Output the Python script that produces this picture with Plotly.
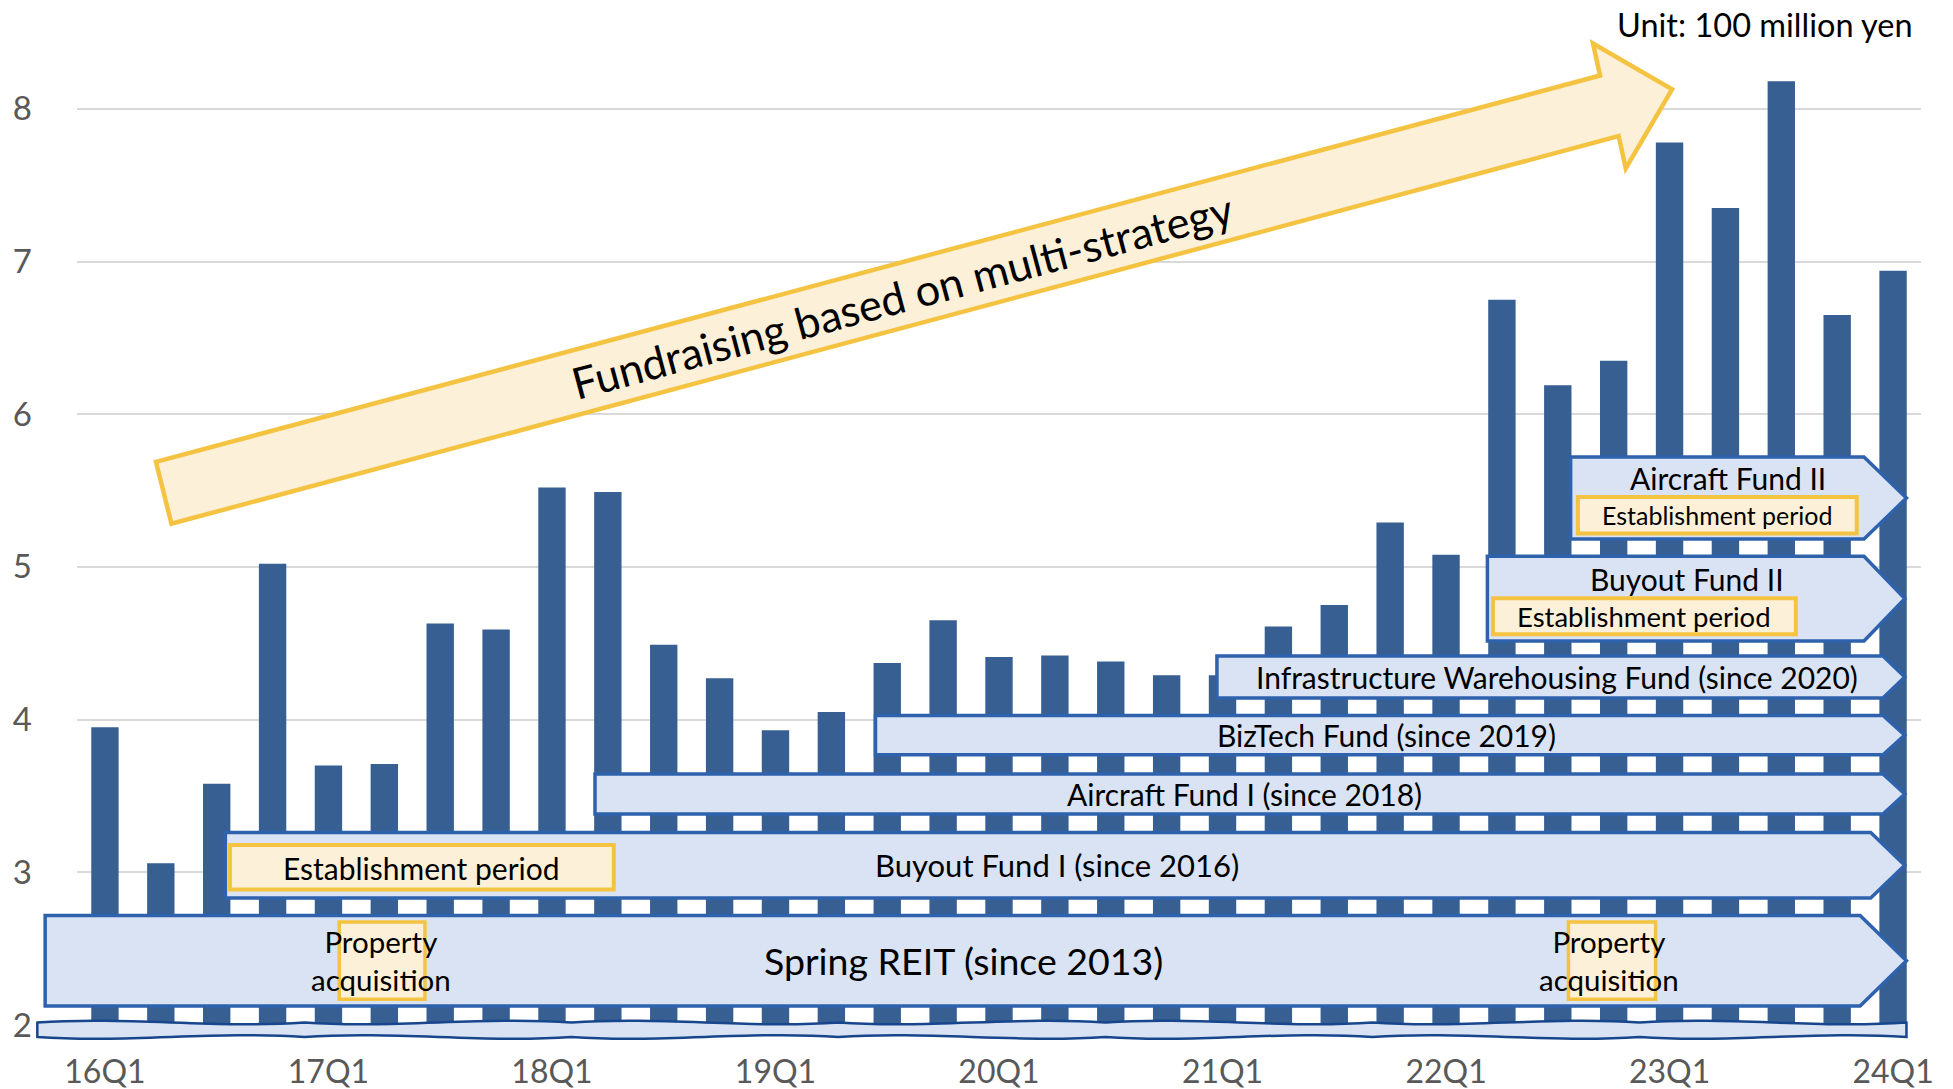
import plotly.graph_objects as go

# ---------------- data ----------------
quarters = ["16Q1", "16Q2", "16Q3", "16Q4", "17Q1", "17Q2", "17Q3", "17Q4",
            "18Q1", "18Q2", "18Q3", "18Q4", "19Q1", "19Q2", "19Q3", "19Q4",
            "20Q1", "20Q2", "20Q3", "20Q4", "21Q1", "21Q2", "21Q3", "21Q4",
            "22Q1", "22Q2", "22Q3", "22Q4", "23Q1", "23Q2", "23Q3", "23Q4",
            "24Q1"]
values = [3.95, 3.06, 3.58, 5.02, 3.70, 3.71, 4.63, 4.59,
          5.52, 5.49, 4.49, 4.27, 3.93, 4.05, 4.37, 4.65,
          4.41, 4.42, 4.38, 4.29, 4.29, 4.61, 4.75, 5.29,
          5.08, 6.75, 6.19, 6.35, 7.78, 7.35, 8.18, 6.65,
          6.94]
tick_quarters = ["16Q1", "17Q1", "18Q1", "19Q1", "20Q1", "21Q1", "22Q1", "23Q1", "24Q1"]
y_ticks = [2, 3, 4, 5, 6, 7, 8]

fund_labels = ["Spring REIT (since 2013)", "Buyout Fund I (since 2016)",
               "Aircraft Fund I (since 2018)", "BizTech Fund (since 2019)",
               "Infrastructure Warehousing Fund (since 2020)",
               "Buyout Fund II", "Aircraft Fund II"]
establishment_text = "Establishment period"
property_text = "Property<br>acquisition"
arrow_text = "Fundraising based on multi-strategy"
unit_text = "Unit: 100 million yen"

# ---------------- geometry helpers ----------------
W, H = 1953, 1089
XMIN, XMAX = -0.5, len(quarters) - 0.5
YMIN, YMAX = 2.0, 8.647
FONT = "Lato, Carlito, 'Open Sans', sans-serif"

BAR = "#375F92"
BAND_FILL = "#DAE3F3"
BAND_LINE = "#2F62AD"
YEL = "#F5C342"
YEL_FILL = "#FDF0D8"


def fx(q):
    return (q - XMIN) / (XMAX - XMIN)


def fy(v):
    return (v - YMIN) / (YMAX - YMIN)


def pt(q, v):
    return f"{fx(q):.5f},{fy(v):.5f}"


shapes = []


def chevron(x0, x1, xt, y0, y1):
    ym = (y0 + y1) / 2
    path = (f"M {pt(x0, y0)} L {pt(x1, y0)} L {pt(xt, ym)} L {pt(x1, y1)} "
            f"L {pt(x0, y1)} Z")
    shapes.append(dict(type="path", path=path, xref="paper", yref="paper",
                       fillcolor=BAND_FILL, line=dict(color=BAND_LINE, width=3.5),
                       layer="above"))


def ybox(x0, x1, y0, y1, width=4):
    shapes.append(dict(type="rect", x0=fx(x0), x1=fx(x1), y0=fy(y0), y1=fy(y1),
                       xref="paper", yref="paper", fillcolor=YEL_FILL,
                       line=dict(color=YEL, width=width), layer="above"))


# wavy axis-break strip
def wavy_strip(x0, x1, y0, y1, amp=0.04, n=7):
    step = (x1 - x0) / n
    d = f"M {pt(x0, y1)} "
    for i in range(n):
        a = x0 + i * step
        s = 1 if i % 2 == 0 else -1
        d += (f"C {pt(a + step / 3, y1 + s * amp)} {pt(a + 2 * step / 3, y1 - s * amp)} "
              f"{pt(a + step, y1)} ")
    d += f"L {pt(x1, y0)} "
    for i in range(n):
        a = x1 - i * step
        s = 1 if i % 2 == 0 else -1
        d += (f"C {pt(a - step / 3, y0 + s * amp)} {pt(a - 2 * step / 3, y0 - s * amp)} "
              f"{pt(a - step, y0)} ")
    d += "Z"
    shapes.append(dict(type="path", path=d, xref="paper", yref="paper",
                       fillcolor=BAND_FILL, line=dict(color="#17468C", width=2.5),
                       layer="above"))


wavy_strip(-1.21, 32.24, 1.922, 2.016)

# fund bands (chevron arrows)
chevron(-1.07, 31.41, 32.24, 2.124, 2.717)   # Spring REIT
chevron(2.155, 31.60, 32.21, 2.832, 3.261)   # Buyout I
chevron(8.77, 31.82, 32.21, 3.382, 3.644)    # Aircraft I
chevron(13.79, 31.82, 32.21, 3.770, 4.027)   # BizTech
chevron(19.90, 31.82, 32.21, 4.141, 4.417)   # Infrastructure
chevron(24.74, 31.48, 32.21, 4.515, 5.069)   # Buyout II
chevron(26.23, 31.48, 32.24, 5.182, 5.720)   # Aircraft II

# establishment / property boxes
ybox(2.237, 9.106, 2.887, 3.178)
ybox(24.84, 30.26, 4.559, 4.794)
ybox(26.36, 31.35, 5.219, 5.458)
ybox(4.193, 5.727, 2.169, 2.674, width=3.5)
ybox(26.19, 27.75, 2.169, 2.674, width=3.5)

# big yellow arrow
arrow_pts = [(0.913, 5.688), (26.756, 8.218), (26.631, 8.428), (28.045, 8.127),
             (27.216, 7.609), (27.089, 7.821), (1.190, 5.283)]
apath = "M " + " L ".join(pt(q, v) for q, v in arrow_pts) + " Z"
shapes.append(dict(type="path", path=apath, xref="paper", yref="paper",
                   fillcolor=YEL_FILL, line=dict(color=YEL, width=4.5), layer="above"))

# ---------------- figure ----------------
fig = go.Figure()
fig.add_trace(go.Bar(x=quarters, y=values, marker=dict(color=BAR, line=dict(width=0)),
                     hoverinfo="x+y"))

annotations = []


def label(q, v, text, size, color="#000000", xanchor="center", angle=0):
    annotations.append(dict(x=fx(q), y=fy(v), xref="paper", yref="paper", text=text,
                            showarrow=False, xanchor=xanchor, yanchor="middle",
                            textangle=angle,
                            font=dict(family=FONT, size=size, color=color)))


label(15.36, 2.42, fund_labels[0], 37.5)
label(17.04, 3.051, fund_labels[1], 31)
label(20.40, 3.516, fund_labels[2], 30)
label(22.93, 3.896, fund_labels[3], 30)
label(25.99, 4.276, fund_labels[4], 30)
label(28.31, 4.924, fund_labels[5], 30)
label(29.05, 5.585, fund_labels[6], 30)
label(5.67, 3.03, establishment_text, 30)
label(27.55, 4.675, establishment_text, 27.5)
label(28.85, 5.339, establishment_text, 25)
label(4.94, 2.42, property_text, 29.5)
label(26.92, 2.42, property_text, 29.5)
label(14.28, 6.78, arrow_text, 43.5, angle=-15)
label(32.40, 8.555, unit_text, 32.5, xanchor="right")

fig.update_layout(
    width=W, height=H,
    margin=dict(l=77, r=32, t=10, b=64, autoexpand=False),
    paper_bgcolor="white", plot_bgcolor="white",
    bargap=0.51, showlegend=False,
    shapes=shapes, annotations=annotations,
    font=dict(family=FONT, color="#595959"),
    xaxis=dict(type="category", range=[XMIN, XMAX], tickmode="array",
               tickvals=tick_quarters, ticktext=tick_quarters, automargin=False,
               showgrid=False, showline=False, zeroline=False, ticks="",
               tickfont=dict(family=FONT, size=32, color="#595959"),
               ticklabelstandoff=25),
    yaxis=dict(range=[YMIN, YMAX], tickmode="array", tickvals=y_ticks, automargin=False,
               showgrid=True, gridcolor="#D9D9D9", gridwidth=2,
               zeroline=False, showline=False, ticks="",
               tickfont=dict(family=FONT, size=33, color="#595959"),
               ticklabelstandoff=44),
)

fig.write_html("out.html",
               config={"displayModeBar": False},
               post_script="document.body.style.margin='0';"
                           "document.body.style.padding='0';"
                           "document.body.style.overflow='hidden';")
